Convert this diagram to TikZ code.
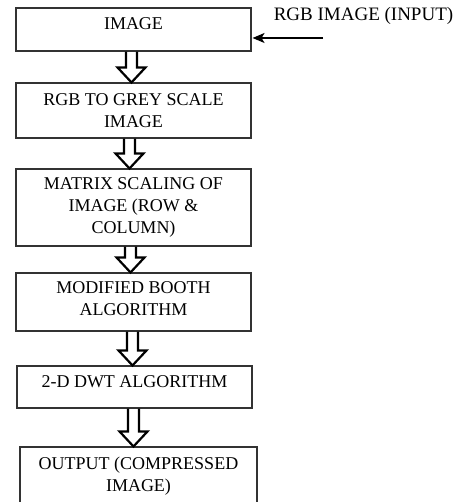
\documentclass[tikz,border=0pt]{standalone}
\usepackage{fontspec}
\setmainfont{Liberation Serif}
\usetikzlibrary{arrows.meta,calc,positioning}

\tikzset{
  stage/.style={draw=black!80, line width=1.1pt, minimum width=235pt, align=center,
    font=\fontsize{18}{22}\selectfont, inner sep=2pt},
  flow/.style={line width=2.2pt, line join=miter, to path={
      let \p1=(\tikztostart), \p2=(\tikztotarget) in
      (\x1-5.5pt,\y1) -- (\x1-5.5pt,\y2+15pt) -- (\x1-14pt,\y2+15pt) -- (\x1,\y2)
      -- (\x1+14pt,\y2+15pt) -- (\x1+5.5pt,\y2+15pt) -- (\x1+5.5pt,\y1)}}
}

\begin{document}
\begin{tikzpicture}[x=1pt, y=-1pt]
    \useasboundingbox (0,0) rectangle (462,502);
    \clip (0,0) rectangle (462,502);

    \node[stage, minimum height=43pt, text depth=11pt] (img) at (133.5, 29.5) {IMAGE};
    \node[stage, minimum height=55pt] (grey) at (133.5, 110.5) {RGB TO GREY SCALE\\IMAGE};
    \node[stage, minimum height=77pt] (scale) at (133.5, 207.5)
    {MATRIX SCALING OF\\IMAGE (ROW \&\\COLUMN)};
    \node[stage, minimum height=58pt, text depth=6pt] (booth) at (133.5, 302) {MODIFIED BOOTH\\ALGORITHM};
    \node[stage, minimum height=42pt, text depth=11pt] (dwt) at (134.5, 387) {2-D DWT ALGORITHM};
    \node[stage, minimum height=58pt, minimum width=237pt] (out) at (138.5, 476)
    {OUTPUT (COMPRESSED\\IMAGE)};

    % input
    \node[font=\fontsize{19}{22}\selectfont] (inlbl) at (363.5, 16) {RGB IMAGE (INPUT)};
    \coordinate (src) at (323, 38);
    \draw[line width=1.4pt, -{Stealth[length=12pt, width=10pt, inset=3pt]}] (src) -- ([xshift=1pt]img.east |- src);

    \draw[flow] ([xshift=-2pt]img.south) to ([xshift=-2pt]grey.north);
    \draw[flow] ([xshift=-4pt]grey.south) to ([xshift=-4pt]scale.north);
    \draw[flow] ([xshift=-3pt]scale.south) to ([xshift=-3pt]booth.north);
    \draw[flow] ([xshift=-1pt]booth.south) to ([xshift=-1pt]dwt.north);
    \draw[flow] ([xshift=-1pt]dwt.south) to ([xshift=-1pt]dwt.south |- out.north);
\end{tikzpicture}
\end{document}
